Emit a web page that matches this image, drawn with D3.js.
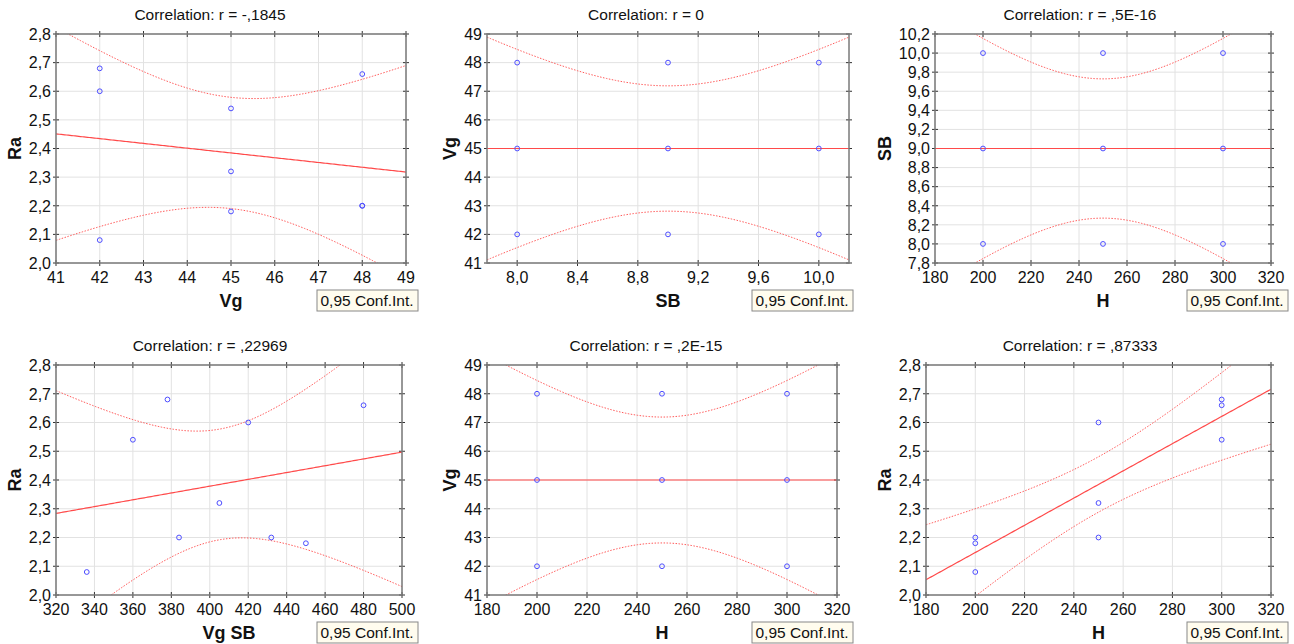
<!DOCTYPE html>
<html>
<head>
<meta charset="utf-8">
<script src="https://cdn.jsdelivr.net/npm/d3@7"></script>
<style>
  body { margin: 0; background: #fff; }
  text { font-family: "Liberation Sans", Arial, sans-serif; fill: #111; }
</style>
</head>
<body>
<div id="chart"></div>
<script>
// 9 runs of the experiment (L9 design)
const Vg = [42, 42, 42, 45, 45, 45, 48, 48, 48];
const SB = [8, 9, 10, 8, 9, 10, 8, 9, 10];
const H = [200, 300, 250, 300, 250, 200, 250, 200, 300];
const Ra = [2.08, 2.68, 2.60, 2.54, 2.32, 2.18, 2.20, 2.20, 2.66];
const VgSB = Vg.map((v, i) => v * SB[i]);

const titles = ["Correlation: r = -,1845", "Correlation: r = 0", "Correlation: r = ,5E-16",
  "Correlation: r = ,22969", "Correlation: r = ,2E-15", "Correlation: r = ,87333"];
const xNames = ["Vg", "SB", "H", "Vg SB", "H", "H"];
const yNames = ["Ra", "Vg", "SB", "Ra", "Vg", "Ra"];
const xData = [Vg, SB, H, VgSB, H, H];
const yData = [Ra, Vg, SB, Ra, Vg, Ra];
const xDomains = [[41, 49], [7.8, 10.2], [180, 320], [320, 500], [180, 320], [180, 320]];
const yDomains = [[2.0, 2.8], [41, 49], [7.8, 10.2], [2.0, 2.8], [41, 49], [2.0, 2.8]];
const xTickValues = [d3.range(41, 49.1, 1), d3.range(8, 10.01, 0.4), d3.range(180, 321, 20),
  d3.range(320, 501, 20), d3.range(180, 321, 20), d3.range(180, 321, 20)];
const yTickValues = [d3.range(2.0, 2.81, 0.1), d3.range(41, 49.1, 1), d3.range(7.8, 10.21, 0.2),
  d3.range(2.0, 2.81, 0.1), d3.range(41, 49.1, 1), d3.range(2.0, 2.81, 0.1)];
const xFmt = ["d", ".1f", "d", "d", "d", "d"];
const yFmt = [".1f", "d", ".1f", ".1f", "d", ".1f"];
const confLabel = "0,95 Conf.Int.";
const tCrit = 2.3646; // t(0.975, 7)

// frame of every panel: left, right, top, bottom
const frames = [
  [56, 406, 34, 263], [487, 849, 34, 263], [935, 1271, 34, 263],
  [56, 402, 365, 595], [487, 837, 365, 595], [926, 1271, 365, 595]
];
const titleX = [210, 646, 1080, 210, 646, 1080];
const yLabelX = [15, 450, 885, 15, 450, 885];
const legendX = [317, 752, 1187, 317, 752, 1187];

const locale = d3.formatLocale({ decimal: ",", thousands: " ", grouping: [3], currency: ["", ""] });

const svg = d3.select("#chart").append("svg").attr("width", 1294).attr("height", 644);

function fit(xs, ys) {
  const n = xs.length, mx = d3.mean(xs), my = d3.mean(ys);
  const sxx = d3.sum(xs, x => (x - mx) ** 2);
  const sxy = d3.sum(xs, (x, i) => (x - mx) * (ys[i] - my));
  const b = sxy / sxx, a = my - b * mx;
  const sse = d3.sum(xs, (x, i) => (ys[i] - a - b * x) ** 2);
  const s = Math.sqrt(sse / (n - 2));
  return { n, mx, sxx, a, b, s };
}

frames.forEach((f, k) => {
  const [l, r, t, b] = f;
  const row = k < 3 ? 0 : 1;
  const x = d3.scaleLinear().domain(xDomains[k]).range([l, r]);
  const y = d3.scaleLinear().domain(yDomains[k]).range([b, t]);
  const g = svg.append("g");

  // 网格
  g.selectAll(".gx").data(xTickValues[k]).enter().append("line")
    .attr("x1", d => x(d)).attr("x2", d => x(d)).attr("y1", t).attr("y2", b)
    .attr("stroke", "#e2e2e2").attr("stroke-width", 1);
  g.selectAll(".gy").data(yTickValues[k]).enter().append("line")
    .attr("y1", d => y(d)).attr("y2", d => y(d)).attr("x1", l).attr("x2", r)
    .attr("stroke", "#e2e2e2").attr("stroke-width", 1);

  // ticks crossing the frame
  const tk = g.append("g").attr("stroke", "#333").attr("stroke-width", 1);
  xTickValues[k].forEach(d => {
    tk.append("line").attr("x1", x(d)).attr("x2", x(d)).attr("y1", b - 3).attr("y2", b + 3);
    tk.append("line").attr("x1", x(d)).attr("x2", x(d)).attr("y1", t - 3).attr("y2", t + 3);
  });
  yTickValues[k].forEach(d => {
    tk.append("line").attr("y1", y(d)).attr("y2", y(d)).attr("x1", l - 3).attr("x2", l + 3);
    tk.append("line").attr("y1", y(d)).attr("y2", y(d)).attr("x1", r - 3).attr("x2", r + 3);
  });

  // tick labels
  const fx = locale.format(xFmt[k]), fy = locale.format(yFmt[k]);
  g.selectAll(".tx").data(xTickValues[k]).enter().append("text")
    .attr("x", d => x(d)).attr("y", b + 20).attr("text-anchor", "middle")
    .attr("font-size", "16px").text(d => fx(d));
  g.selectAll(".ty").data(yTickValues[k]).enter().append("text")
    .attr("x", l - 5).attr("y", d => y(d)).attr("dy", "0.36em").attr("text-anchor", "end")
    .attr("font-size", "16px").text(d => fy(d));

  // clip
  const cid = "clip" + k;
  svg.append("clipPath").attr("id", cid).append("rect")
    .attr("x", l).attr("y", t).attr("width", r - l).attr("height", b - t);
  const plot = g.append("g").attr("clip-path", "url(#" + cid + ")");

  // regression + 0.95 band
  const m = fit(xData[k], yData[k]);
  const xs = d3.range(0, 201).map(i => xDomains[k][0] + (xDomains[k][1] - xDomains[k][0]) * i / 200);
  const half = xv => tCrit * m.s * Math.sqrt(1 / m.n + (xv - m.mx) ** 2 / m.sxx);
  const line = d3.line().x(d => x(d[0])).y(d => y(d[1]));
  plot.append("path").attr("d", line(xs.map(v => [v, m.a + m.b * v])))
    .attr("fill", "none").attr("stroke", "#ff4a4a").attr("stroke-width", 1.2);
  [1, -1].forEach(sg => {
    plot.append("path").attr("d", line(xs.map(v => [v, m.a + m.b * v + sg * half(v)])))
      .attr("fill", "none").attr("stroke", "#ff5a5a").attr("stroke-width", 1)
      .attr("stroke-dasharray", "1.5,1.5");
  });

  // points
  plot.selectAll("circle").data(xData[k].map((v, i) => [v, yData[k][i]])).enter().append("circle")
    .attr("cx", d => x(d[0])).attr("cy", d => y(d[1])).attr("r", 2.4)
    .attr("fill", "none").attr("stroke", "#4d4dff").attr("stroke-width", 1);

  // frame
  g.append("rect").attr("x", l).attr("y", t).attr("width", r - l).attr("height", b - t)
    .attr("fill", "none").attr("stroke", "#7a7a7a").attr("stroke-width", 1.5);

  // title & axis names
  g.append("text").attr("x", titleX[k]).attr("y", row ? 351 : 20).attr("text-anchor", "middle")
    .attr("font-size", "15.5px").text(titles[k]);
  g.append("text").attr("x", (l + r) / 2).attr("y", b + 44).attr("text-anchor", "middle")
    .attr("font-size", "18px").attr("font-weight", "bold").text(xNames[k]);
  g.append("text").attr("transform", "translate(" + yLabelX[k] + "," + ((t + b) / 2) + ") rotate(-90)")
    .attr("dy", "0.36em").attr("text-anchor", "middle")
    .attr("font-size", "18px").attr("font-weight", "bold").text(yNames[k]);

  // legend box
  const ly = row ? 622 : 290;
  g.append("rect").attr("x", legendX[k]).attr("y", ly).attr("width", 101).attr("height", 21)
    .attr("fill", "#fffcee").attr("stroke", "#888").attr("stroke-width", 1);
  g.append("text").attr("x", legendX[k] + 3.5).attr("y", ly + 16)
    .attr("font-size", "15.5px").text(confLabel);
});
</script>
</body>
</html>
